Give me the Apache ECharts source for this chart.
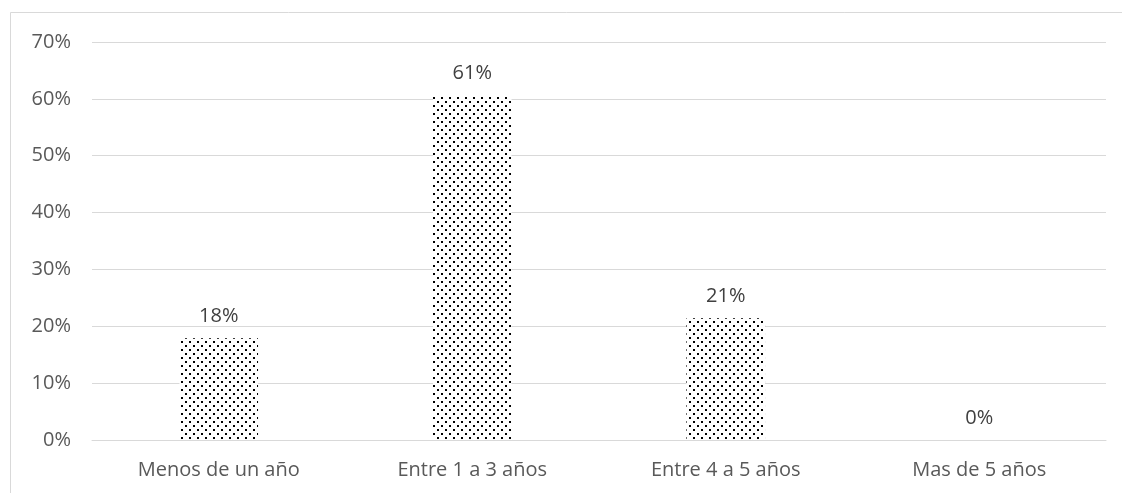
<!DOCTYPE html>
<html>
<head>
<meta charset="utf-8">
<script src="https://cdn.jsdelivr.net/npm/echarts@6/dist/echarts.min.js"></script>
<style>
  html, body { margin: 0; padding: 0; background: #fff; }
  #chart { width: 1122px; height: 493px; }
</style>
</head>
<body>
<div id="chart"></div>
<script>
/* ================================
   DATA
================================ */
const categories = ["Menos de un año", "Entre 1 a 3 años", "Entre 4 a 5 años", "Mas de 5 años"];
const values = [0.179, 0.606, 0.214, 0];
const valueLabels = ["18%", "61%", "21%", "0%"];

/* ================================
   DOT PATTERN FOR BARS
================================ */
function dotPattern() {
  const c = document.createElement("canvas");
  c.width = 8;
  c.height = 8;
  const ctx = c.getContext("2d");
  ctx.fillStyle = "#fff";
  ctx.fillRect(0, 0, 8, 8);
  ctx.fillStyle = "#000";
  ctx.fillRect(1, 1, 2, 2);
  ctx.fillRect(5, 5, 2, 2);
  return c;
}

const chart = echarts.init(document.getElementById("chart"));
const font = "'Open Sans', 'Liberation Sans', sans-serif";

chart.setOption({
  animation: false,
  backgroundColor: "#fff",
  graphic: [{
    type: "rect",
    shape: { x: 10.5, y: 12.5, width: 1200, height: 600 },
    style: { fill: "none", stroke: "#d9d9d9", lineWidth: 1 },
    silent: true
  }],
  grid: { left: 92, right: 16, top: 42, bottom: 53 },
  xAxis: {
    type: "category",
    data: categories,
    axisLine: { lineStyle: { color: "#d9d9d9" } },
    axisTick: { show: false },
    axisLabel: { color: "#595959", fontSize: 20, fontFamily: font, margin: 20 }
  },
  yAxis: {
    type: "value",
    min: 0,
    max: 0.7,
    interval: 0.1,
    axisLine: { show: false },
    axisTick: { show: false },
    splitLine: { lineStyle: { color: "#d9d9d9" } },
    axisLabel: {
      color: "#595959", fontSize: 20, fontFamily: font, margin: 21,
      formatter: v => Math.round(v * 100) + "%"
    }
  },
  series: [{
    type: "bar",
    data: values,
    barWidth: "31%",
    itemStyle: { color: { image: dotPattern(), repeat: "repeat" } },
    label: {
      show: true,
      position: "top",
      distance: 12,
      color: "#404040",
      fontSize: 20,
      fontFamily: font,
      formatter: p => valueLabels[p.dataIndex]
    }
  }]
});
</script>
</body>
</html>
